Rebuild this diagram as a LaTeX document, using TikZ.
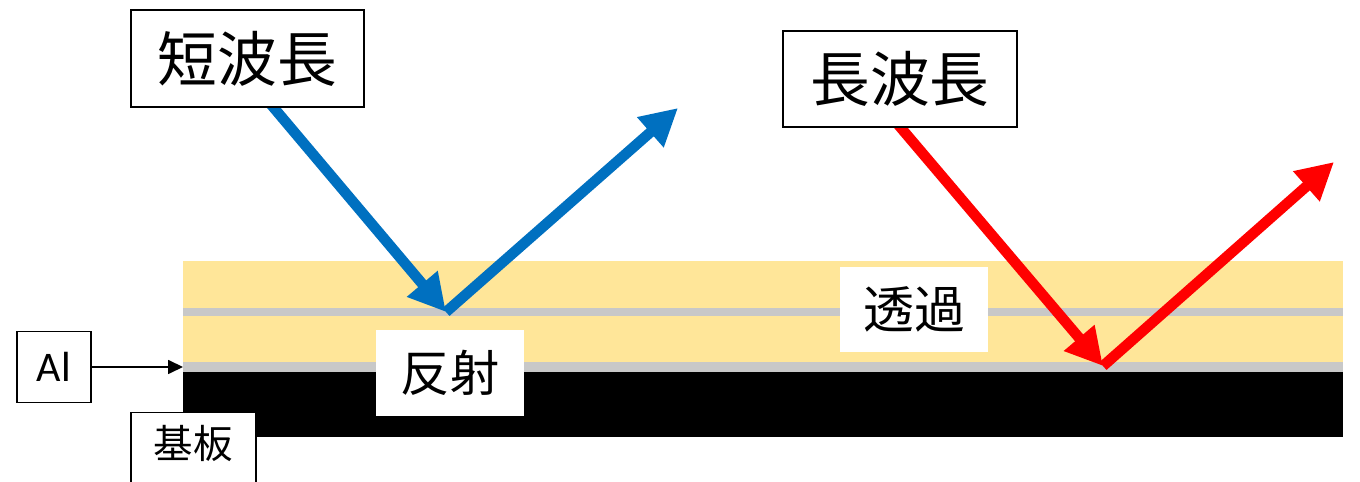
\documentclass[tikz,border=0pt]{standalone}
\usepackage{fontspec}
\setmainfont{Carlito}
\newfontfamily\jp{Noto Sans CJK JP}
\usetikzlibrary{arrows.meta,positioning}
\definecolor{layergold}{HTML}{FFE699}
\definecolor{algray}{HTML}{C8C8C8}
\definecolor{shortblue}{HTML}{0070C0}

\begin{document}
\begin{tikzpicture}[x=0.02cm,y=-0.02cm,
    labelbox/.style={draw=black, line width=0.8pt, fill=white, inner sep=0pt},
    whitebox/.style={fill=white, inner sep=0pt},
    ray/.style={line width=6pt, -{Triangle[length=21pt,width=21.5pt]}}]
    \useasboundingbox (0,0) rectangle (1360,482);
    % layers
    \fill[layergold] (183,261) rectangle (1343,372);
    \fill[algray] (183,308) rectangle (1343,316);
    \fill[algray] (183,362) rectangle (1343,372);
    \fill[black] (183,372) rectangle (1343,437);
    \coordinate (alpt) at (183,367);
    % reflect / transmit labels
    \node[whitebox, minimum width=2.96cm, minimum height=1.72cm] (refl) at (450,373) {};
    \node[font={\jp\fontsize{28}{32}\selectfont}] (refltext) at (450,373) {反射};
    \node[whitebox, minimum width=2.96cm, minimum height=1.7cm] (trans) at (914,309.5) {};
    \node[font={\jp\fontsize{29}{33}\selectfont}] (transtext) at (914,309.5) {透過};
    % rays
    \coordinate (sin) at (263,95);
    \coordinate (shit) at (446,312);
    \coordinate (sout) at (678,108);
    \draw[ray, shortblue] (sin) -- (shit);
    \draw[ray, shortblue] (shit) -- (sout);
    \coordinate (lin) at (890,115);
    \coordinate (lhit) at (1103,366);
    \coordinate (lout) at (1334,162);
    \draw[ray, red] (lin) -- (lhit);
    \draw[ray, red] (lhit) -- (lout);
    % wavelength boxes
    \node[labelbox, minimum width=4.66cm, minimum height=1.94cm, font={\jp\fontsize{34}{40}\selectfont}] (short) at (247.5,58.5) {短波長};
    \node[labelbox, minimum width=4.68cm, minimum height=1.92cm, font={\jp\fontsize{34}{40}\selectfont}] (long) at (900,79) {長波長};
    % Al and substrate
    \node[labelbox, minimum width=1.48cm, minimum height=1.42cm, font=\fontsize{24}{28}\selectfont] (al) at (54,367) {Al};
    \draw[line width=0.75pt, -{Triangle[length=8.5pt,width=8pt]}] (al.east) -- (alpt);
    \node[labelbox, minimum width=2.5cm, minimum height=2cm, anchor=north] (base) at (193.5,412) {};
    \node[font={\jp\fontsize{22.5}{26}\selectfont}] (basetext) at (193.5,443.5) {基板};
\end{tikzpicture}
\end{document}
